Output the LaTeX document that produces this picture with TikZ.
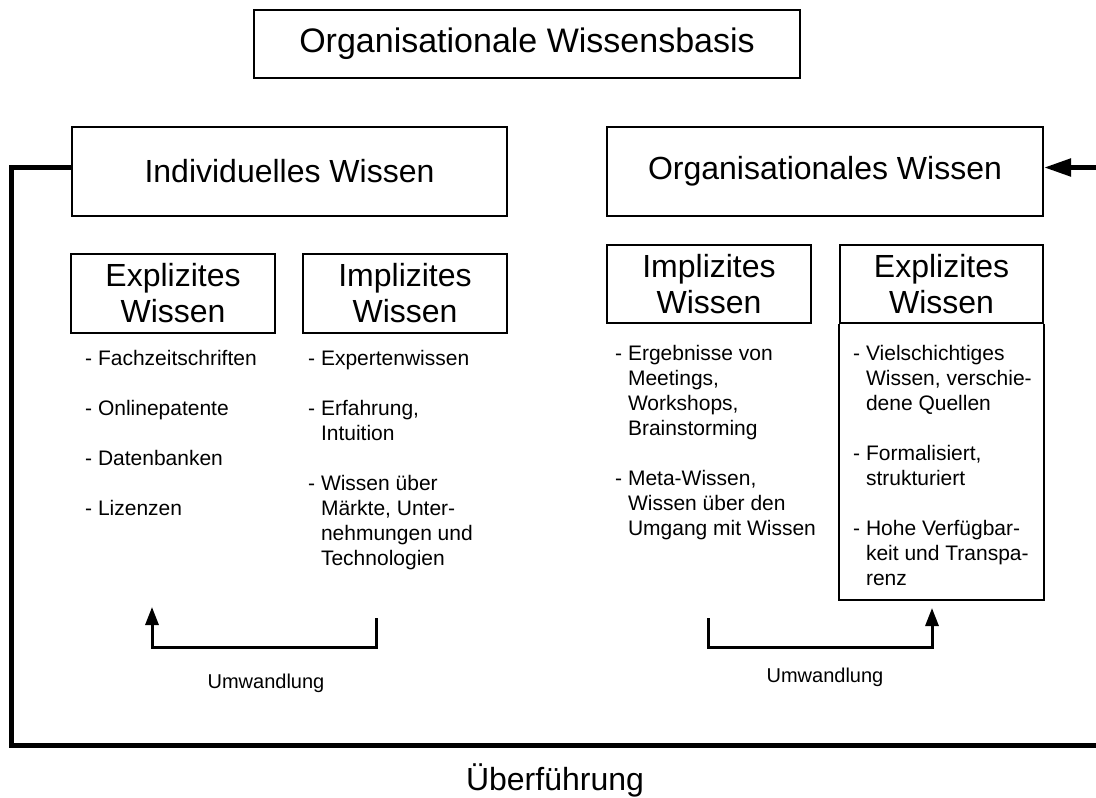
\documentclass[tikz,border=0pt]{standalone}
\usepackage{fontspec}
\setmainfont{Liberation Sans}
\usetikzlibrary{arrows.meta}
\newcommand\bigfnt{\fontsize{32}{36}\selectfont}
\newcommand\titlefnt{\fontsize{34}{38}\selectfont}
\newcommand\listfnt{\fontsize{21}{25}\selectfont}
\newcommand\umfnt{\fontsize{20}{24}\selectfont}
\begin{document}
\begin{tikzpicture}[x=1pt,y=-1pt,
  box/.style={draw, line width=2pt, inner sep=0pt, align=center, font=\bigfnt},
  smallbox/.style={box, minimum width=204pt, minimum height=79pt},
  outer/.style={line width=5pt},
  conv/.style={line width=3pt},
  lst/.style={inner sep=0pt, anchor=base west, font=\listfnt},
  lbl/.style={inner sep=0pt, font=\umfnt},
]
\useasboundingbox (0,0) rectangle (1096,798);
% boxes
\node[box, font=\titlefnt, minimum width=546pt, minimum height=68pt] (title) at (527,44) {Organisationale Wissensbasis};
\node[box, minimum width=435pt, minimum height=89pt] (ind) at (289.5,171.5) {Individuelles Wissen};
\node[box, minimum width=436pt, minimum height=89pt] (org) at (825,171.5) {Organisationales Wissen};
\node[smallbox] (lexp) at (173,293.5) {Explizites\\Wissen};
\node[smallbox] (limp) at (405,293.5) {Implizites\\Wissen};
\node[smallbox, minimum height=78pt] (rimp) at (709,284) {Implizites\\Wissen};
\node[smallbox, minimum width=203pt, minimum height=78pt] (rexp) at (941.5,284) {Explizites\\Wissen};
\draw[line width=2pt] (rexp.south west) -- ++(0,276) -| (rexp.south east);
% lists
\node[lst] (lexpl) at (85,365) {\begin{tabular}[t]{@{}l@{\ }l@{}}
- & Fachzeitschriften\\[25pt]
- & Onlinepatente\\[25pt]
- & Datenbanken\\[25pt]
- & Lizenzen
\end{tabular}};
\node[lst] (limpl) at (308,365) {\begin{tabular}[t]{@{}l@{\ }l@{}}
- & Expertenwissen\\[25pt]
- & Erfahrung,\\
  & Intuition\\[25pt]
- & Wissen über\\
  & Märkte, Unter-\\
  & nehmungen und\\
  & Technologien
\end{tabular}};
\node[lst] (rimpl) at (615,360) {\begin{tabular}[t]{@{}l@{\ }l@{}}
- & Ergebnisse von\\
  & Meetings,\\
  & Workshops,\\
  & Brainstorming\\[25pt]
- & Meta-Wissen,\\
  & Wissen über den\\
  & Umgang mit Wissen
\end{tabular}};
\node[lst] (rexpl) at (853,360) {\begin{tabular}[t]{@{}l@{\ }l@{}}
- & Vielschichtiges\\
  & Wissen, verschie-\\
  & dene Quellen\\[25pt]
- & Formalisiert,\\
  & strukturiert\\[25pt]
- & Hohe Verfügbar-\\
  & keit und Transpa-\\
  & renz
\end{tabular}};
% Umwandlung arrows
\coordinate (lu1) at (376,618);
\coordinate (lu2) at (152,607);
\draw[conv, -{Triangle[length=18pt,width=13pt]}] (lu1) -- ++(0,29) -| (lu2);
\node[lbl] (um1) at (266,683) {Umwandlung};
\coordinate (ru1) at (708,618);
\coordinate (ru2) at (932,608);
\draw[conv, -{Triangle[length=18pt,width=13pt]}] (ru1) -- ++(0,29) -| (ru2);
\node[lbl] (um2) at (825,677) {Umwandlung};
% outer loop
\coordinate (bl) at (11,745);
\coordinate (br) at (1096,745);
\coordinate (rt) at (1096,167.5);
\draw[outer] ([yshift=4pt]ind.west) -| (bl) -- (br);
\draw[outer, -{Triangle[length=27pt,width=17pt]}] (rt) -- ([yshift=4pt]org.east);
\node[font=\bigfnt, anchor=base, inner sep=0pt] (ueb) at (555,790) {Überführung};
\end{tikzpicture}
\end{document}
